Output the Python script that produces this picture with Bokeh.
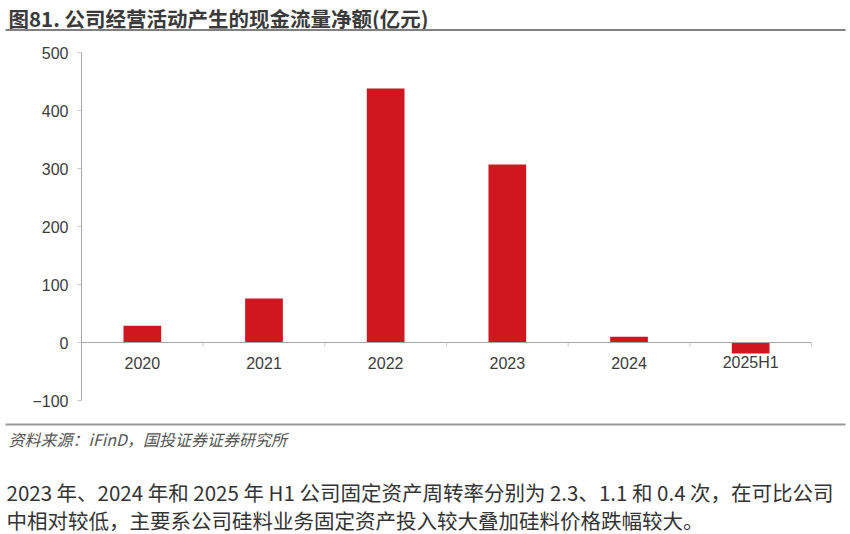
from bokeh.plotting import figure
from bokeh.models import Range1d
from bokeh.core.properties import value
from bokeh.embed import file_html
from bokeh.resources import INLINE

# ---- data ----
categories = ["2020", "2021", "2022", "2023", "2024", "2025H1"]
cash_flow = [29, 76, 438, 307, 10, -19]
y_ticks = [-100, 0, 100, 200, 300, 400, 500]
y_tick_labels = ["−100", "0", "100", "200", "300", "400", "500"]

title_text = "图81. 公司经营活动产生的现金流量净额(亿元)"
source_text = "资料来源：iFinD，国投证券证券研究所"
para_lines = [
    "2023 年、2024 年和 2025 年 H1 公司固定资产周转率分别为 2.3、1.1 和 0.4 次，在可比公司",
    "中相对较低，主要系公司硅料业务固定资产投入较大叠加硅料价格跌幅较大。",
]

W, H = 850, 534
CJK = "Noto Sans CJK SC"
AXIS_FONT = "Liberation Sans"
LABEL_COLOR = "#3c3c3c"

# plot-area geometry (pixels)
X0, X1 = 81, 811          # category axis extent
Y_TOP, Y_BOT = 52, 400    # 500 and -100
n = len(categories)
XPX = (X1 - X0) / n
YPX = (Y_BOT - Y_TOP) / (y_ticks[-1] - y_ticks[0])
Y_ZERO = Y_TOP + y_ticks[-1] * YPX

p = figure(width=W, height=H, x_range=Range1d(0, W), y_range=Range1d(H, 0),
           x_axis_location=None, y_axis_location=None,
           output_backend="svg", toolbar_location=None,
           min_border=0, min_border_left=0, min_border_right=0,
           min_border_top=0, min_border_bottom=0)
p.outline_line_color = None
p.grid.visible = False
p.background_fill_color = "white"
p.border_fill_color = "white"

# chart scales: categories (index units) and values
p.extra_x_ranges = {"cat": Range1d(-X0 / XPX, (W - X0) / XPX)}
p.extra_y_ranges = {"val": Range1d((Y_ZERO - H) / YPX, Y_ZERO / YPX)}

centers = [i + 0.5 for i in range(n)]
boundaries = list(range(n + 1))

# bars
p.vbar(x=centers, top=cash_flow, bottom=0, width=0.31,
       x_range_name="cat", y_range_name="val",
       fill_color="#D0161F", line_color=None)

# category axis at zero
p.segment(x0=[0], y0=[0], x1=[n], y1=[0], x_range_name="cat", y_range_name="val",
          line_color="#a6a6a6", line_width=1)
p.segment(x0=boundaries, y0=[0] * len(boundaries), x1=boundaries,
          y1=[-4 / YPX] * len(boundaries), x_range_name="cat", y_range_name="val",
          line_color="#c8c8c8", line_width=1)
p.text(x=centers, y=[0] * n, text=categories, y_offset=20,
       x_range_name="cat", y_range_name="val",
       text_align="center", text_baseline="middle",
       text_font=value(AXIS_FONT), text_font_size="16px", text_color=LABEL_COLOR)

# value axis
p.segment(x0=[X0], y0=[y_ticks[0]], x1=[X0], y1=[y_ticks[-1]], y_range_name="val",
          line_color="#a6a6a6", line_width=1)
p.segment(x0=[X0 - 4] * len(y_ticks), y0=y_ticks, x1=[X0] * len(y_ticks), y1=y_ticks,
          y_range_name="val", line_color="#c8c8c8", line_width=1)
p.text(x=[X0 - 13] * len(y_ticks), y=y_ticks, text=y_tick_labels, y_range_name="val",
       text_align="right", text_baseline="middle",
       text_font=value(AXIS_FONT), text_font_size="16px", text_color=LABEL_COLOR)

# header
p.text(x=[8], y=[17.5], text=[title_text], text_font=value(CJK),
       text_font_style="bold", text_font_size="20.5px", text_color="#3a3a3a",
       text_align="left", text_baseline="middle")
p.segment(x0=[5], y0=[29.5], x1=[845], y1=[29.5], line_color="#808080", line_width=2)

# footer
p.segment(x0=[5], y0=[424], x1=[845], y1=[424], line_color="#9a9a9a", line_width=2)
p.text(x=[8], y=[438], text=[source_text], text_font=value(CJK),
       text_font_style="italic", text_font_size="16px", text_color="#555555",
       text_align="left", text_baseline="middle")
p.text(x=[6, 6], y=[491.5, 519.5], text=para_lines, text_font=value(CJK),
       text_font_size="20.5px", text_color="#333333",
       text_align="left", text_baseline="middle")

open("out.html", "w").write(file_html(p, INLINE))
